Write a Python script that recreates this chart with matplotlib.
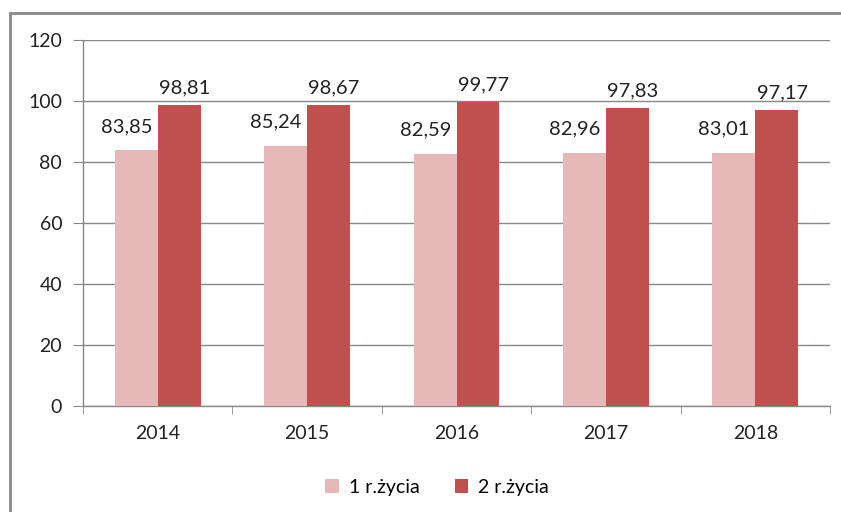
import matplotlib.pyplot as plt
import matplotlib.patches as mpatches
import numpy as np

years = ['2014', '2015', '2016', '2017', '2018']
rok1 = [83.85, 85.24, 82.59, 82.96, 83.01]
rok2 = [98.81, 98.67, 99.77, 97.83, 97.17]
labels = ['1 r.życia', '2 r.życia']

plt.rcParams['font.family'] = ['Lato', 'DejaVu Sans']

fig = plt.figure(figsize=(8.41, 5.12), dpi=100)
ax = fig.add_axes([83/841, 1-406/512, (830-83)/841, (406-40)/512])

x = np.arange(len(years))
w = 0.287
b1 = ax.bar(x - w/2, rok1, w, color='#E6B9B8', label=labels[0], zorder=3)
b2 = ax.bar(x + w/2, rok2, w, color='#C0504D', label=labels[1], zorder=3)

def fmt(v):
    return ('%.2f' % v).replace('.', ',')

for xi, v in zip(x, rok1):
    ax.annotate(fmt(v), (xi - w/2, v), xytext=(-7, 11), textcoords='offset points',
                ha='center', va='bottom', fontsize=14.5, color='#222222')
for xi, v in zip(x, rok2):
    ax.annotate(fmt(v), (xi + w/2, v), xytext=(4, 6), textcoords='offset points',
                ha='center', va='bottom', fontsize=14.5, color='#222222')

ax.set_xlim(-0.5, len(years) - 0.5)
ax.set_ylim(0, 120)
ax.set_yticks(range(0, 121, 20))
ax.set_xticks(x)
ax.set_xticklabels(years)
ax.set_xticks(np.arange(-0.5, len(years)), minor=True)
ax.tick_params(axis='x', which='major', length=0, pad=14, labelsize=14, labelcolor='#222222')
ax.tick_params(axis='x', which='minor', length=6, color='#888888', direction='out')
ax.tick_params(axis='y', length=7, color='#888888', pad=8, labelsize=14, labelcolor='#222222')
ax.grid(axis='y', color='#888888', lw=1, zorder=0)
for s in ['top', 'right']:
    ax.spines[s].set_visible(False)
for s in ['left', 'bottom']:
    ax.spines[s].set_color('#888888')
    ax.spines[s].set_linewidth(1)

fig.legend(handles=[b1, b2], loc='center', bbox_to_anchor=(437/841, 1-487/512),
           ncol=2, frameon=False, fontsize=14, handlelength=0.7, handleheight=0.7,
           handletextpad=0.5, columnspacing=1.8)

fig.patches.append(mpatches.Rectangle((10/841, -0.05), 1.0, 1.05 - 13/512,
                                      transform=fig.transFigure, fill=False,
                                      edgecolor='#888888', lw=2))

fig.savefig('out.png', dpi=100)
